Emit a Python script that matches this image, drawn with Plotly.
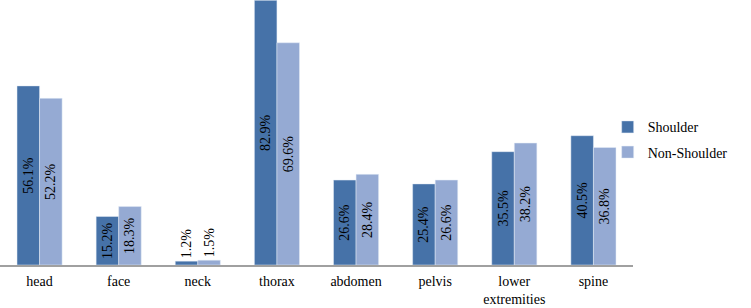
import plotly.graph_objects as go

regions = ['head', 'face', 'neck', 'thorax', 'abdomen', 'pelvis', 'lower<br>extremities', 'spine']
shoulder = [56.1, 15.2, 1.2, 82.9, 26.6, 25.4, 35.5, 40.5]
non_shoulder = [52.2, 18.3, 1.5, 69.6, 28.4, 26.6, 38.2, 36.8]

font = dict(family='"Liberation Serif", "DejaVu Serif", serif', size=14, color='black')

fig = go.Figure()

fig.add_bar(x=regions, y=shoulder, name='Shoulder', legendgroup='a',
            marker=dict(color='#4672A8'),
            text=[f'{v:.1f}%' for v in shoulder], textangle=-90,
            textposition='auto', insidetextanchor='middle', constraintext='none',
            textfont=font, cliponaxis=False)
fig.add_bar(x=regions, y=non_shoulder, name='Non-Shoulder', legendgroup='b',
            marker=dict(color='#95AAD3'),
            text=[f'{v:.1f}%' for v in non_shoulder], textangle=-90,
            textposition='auto', insidetextanchor='middle', constraintext='none',
            textfont=font, cliponaxis=False)

fig.update_layout(
    width=751, height=308,
    margin=dict(l=0, r=118, t=0, b=43, autoexpand=False),
    plot_bgcolor='white', paper_bgcolor='white',
    font=font,
    barmode='group', bargap=0.43, bargroupgap=0,
    legend=dict(x=0.96, y=0.58, xanchor='left', yanchor='top',
                bgcolor='rgba(0,0,0,0)', tracegroupgap=4, font=font),
    xaxis=dict(showline=True, linecolor='#A0A0A0', linewidth=1.5, automargin=False,
               showgrid=False, ticks='', ticklabelstandoff=2, tickfont=font),
    yaxis=dict(range=[0, 83], visible=False, showgrid=False, automargin=False),
)

# drop the browser's default 8px body margin so the figure sits at the page corner
fig.write_html('out.html', config={'displayModeBar': False},
               post_script="document.body.style.margin='0';")
